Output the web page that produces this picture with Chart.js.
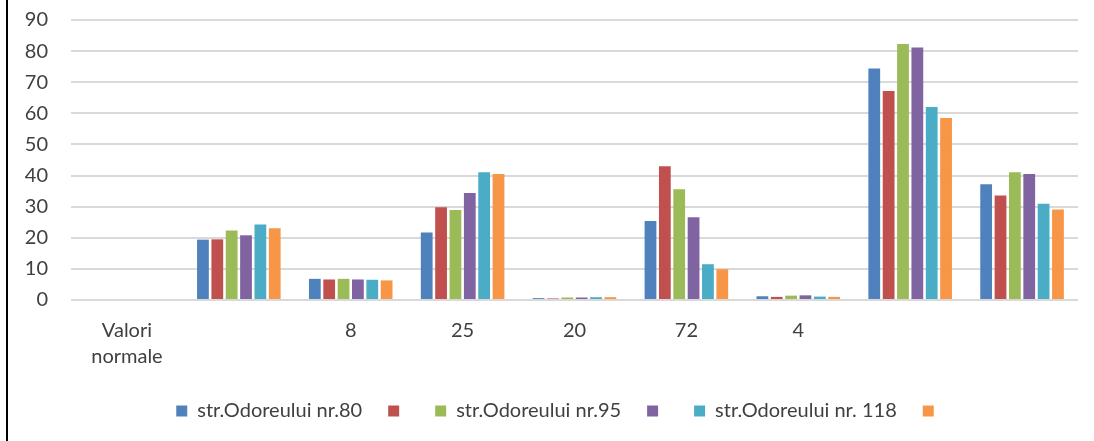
<!DOCTYPE html>
<html lang="ro">
<head>
    <meta charset="UTF-8">
    <title>Grafic</title>
    <script src="https://cdn.jsdelivr.net/npm/chart.js"></script>
    <style>
        html, body { margin: 0; padding: 0; background: #fff; }
        #wrap { position: relative; width: 1094px; height: 441px; }
        #frame { position: absolute; left: 6px; top: 0; width: 2px; height: 441px; background: #000; }
    </style>
</head>
<body>
    <div id="wrap">
        <canvas id="barChart" width="1094" height="441"></canvas>
        <div id="frame"></div>
    </div>

    <script>
        const categories = [['Valori', 'normale'], '', '8', '25', '20', '72', '4', '', ''];
        const seriesNames = ['str.Odoreului nr.80', '', 'str.Odoreului nr.95', '', 'str.Odoreului nr. 118', ''];
        const seriesColors = ['#4F81BD', '#C0504D', '#9BBB59', '#8064A2', '#4BACC6', '#F79646'];

        const blue = [null, 19.4, 6.8, 21.7, 0.6, 25.4, 1.2, 74.4, 37.2];
        const red = [null, 19.5, 6.6, 29.8, 0.5, 43.0, 1.0, 67.2, 33.6];
        const green = [null, 22.3, 6.8, 28.9, 0.8, 35.6, 1.4, 82.3, 41.1];
        const purple = [null, 20.8, 6.6, 34.4, 0.8, 26.6, 1.5, 81.2, 40.5];
        const cyan = [null, 24.3, 6.5, 41.1, 0.9, 11.5, 1.1, 62.0, 30.9];
        const orange = [null, 23.1, 6.3, 40.5, 0.9, 9.9, 1.0, 58.5, 29.1];

        const seriesValues = [blue, red, green, purple, cyan, orange];
        const yTicks = [0, 10, 20, 30, 40, 50, 60, 70, 80, 90];

        const fontFamily = 'Lato, "Open Sans", sans-serif';

        // legend is centred a bit right of the canvas centre in the original
        const legendShift = {
            id: 'legendShift',
            afterLayout(chart) {
                chart.legend.left += 21;
                chart.legend.right += 21;
            }
        };

        const ctx = document.getElementById('barChart').getContext('2d');
        const chart = new Chart(ctx, {
            type: 'bar',
            data: {
                labels: categories,
                datasets: seriesValues.map((vals, i) => ({
                    label: seriesNames[i],
                    data: vals,
                    backgroundColor: seriesColors[i],
                    borderWidth: 0,
                    categoryPercentage: 0.77,
                    barPercentage: 0.82
                }))
            },
            options: {
                responsive: false,
                animation: false,
                layout: {
                    padding: { top: 20, right: 16, left: 0, bottom: 10 }
                },
                plugins: {
                    legend: {
                        display: true,
                        position: 'bottom',
                        labels: {
                            boxWidth: 11,
                            boxHeight: 11,
                            padding: 26,
                            color: '#404040',
                            font: { family: fontFamily, size: 20 }
                        }
                    },
                    title: { display: false },
                    tooltip: { enabled: false }
                },
                scales: {
                    x: {
                        grid: { display: false },
                        border: { display: false },
                        ticks: {
                            color: '#404040',
                            font: { family: fontFamily, size: 20, lineHeight: 1.3 },
                            padding: 10,
                            maxRotation: 0,
                            autoSkip: false
                        },
                        afterFit: (scale) => { scale.height = 75; }
                    },
                    y: {
                        min: 0,
                        max: 90,
                        afterBuildTicks: (scale) => { scale.ticks = yTicks.map(v => ({ value: v })); },
                        grid: { color: '#d9d9d9', lineWidth: 2, drawTicks: true, tickLength: 20, tickColor: 'rgba(0,0,0,0)' },
                        border: { display: false },
                        ticks: {
                            color: '#404040',
                            font: { family: fontFamily, size: 20 },
                            padding: 3
                        },
                        afterFit: (scale) => { scale.width = 71; }
                    }
                }
            },
            plugins: [legendShift]
        });
    </script>
</body>
</html>
